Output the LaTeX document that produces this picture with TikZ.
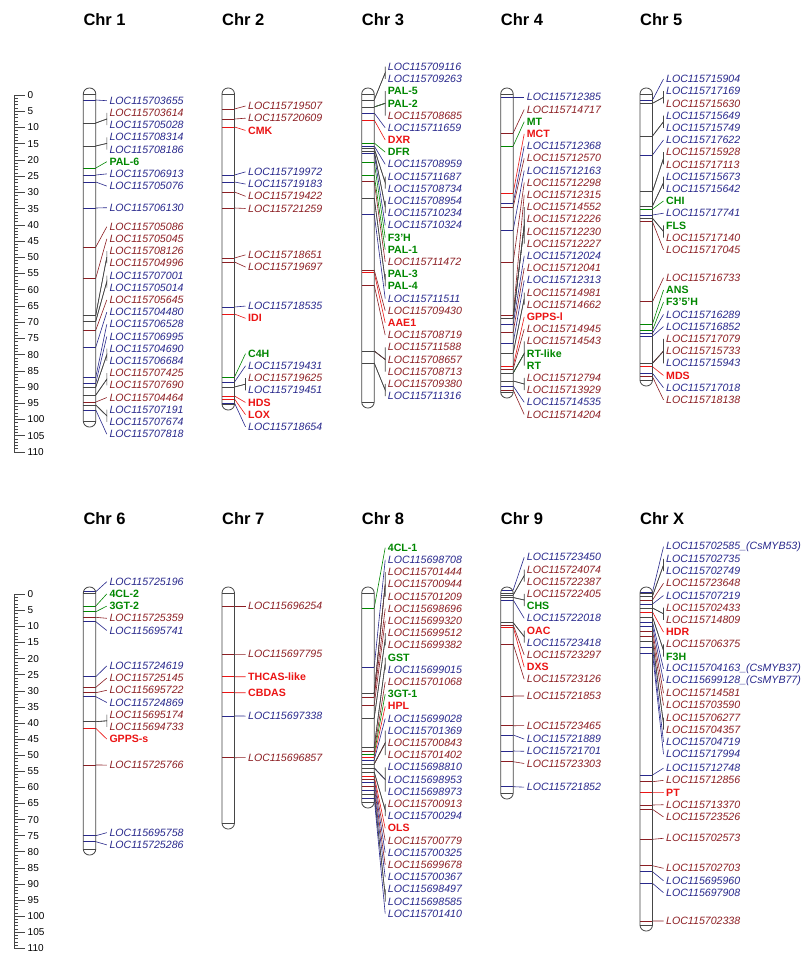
\documentclass[tikz,border=0pt]{standalone}
\usepackage{fontspec}
\setmainfont{Liberation Sans}
\definecolor{locblue}{RGB}{40,40,140}
\definecolor{locred}{RGB}{140,30,35}
\definecolor{genegreen}{RGB}{0,135,0}
\definecolor{genered}{RGB}{235,20,20}
\definecolor{chrgray}{RGB}{70,70,70}
\newcommand{\lfont}{\fontsize{10.6}{12}\selectfont}
\tikzset{
  lb/.style={color=locblue, font=\lfont\itshape},
  lr/.style={color=locred, font=\lfont\itshape},
  gg/.style={color=genegreen, font=\lfont\bfseries},
  gr/.style={color=genered, font=\lfont\bfseries},
  mk/.style={line width=0.7pt},
  cn/.style={line width=0.6pt},
  grp/.style={draw=chrgray, line width=0.6pt},
  chrom/.style={draw=chrgray, line width=0.8pt},
  hd/.style={font=\fontsize{16.5}{18}\selectfont\bfseries, anchor=west, inner sep=0pt},
  scl/.style={font=\fontsize{10}{12}\selectfont, anchor=west, inner sep=0pt},
  rul/.style={draw=chrgray, line width=0.6pt},
}
% #1 name, #2 title, #3 left x, #4 top, #5 bottom, #6 first label y, #7 loci
\newcommand{\chromo}[7]{%
  \pgfmathsetmacro\xl{#3}%
  \pgfmathsetmacro\xr{#3+12.5}%
  \pgfmathsetmacro\xb{#3+23.5}%
  \node[hd] (#1h) at (\xl,#4-68) {#2};
  \fill[white, rounded corners=6pt] (\xl,#4) rectangle (\xr,#5);
  \foreach \k/\m/\a/\c/\t [count=\i] in {#7}{%
    \pgfmathsetmacro\ly{#6+12.2*\k}%
    \pgfmathsetmacro\ay{#6+12.2*\a}%
    \pgfmathtruncatemacro\isg{abs(\a-\k)>0.01}%
    \coordinate (#1m\i) at (\xr,\m);
    \coordinate (#1a\i) at (\xb,\ay);
    \node[\c, anchor=west, inner sep=0pt] (#1l\i) at (\xb+2.5,\ly) {\t};
    \ifnum\isg=1
      \draw[grp] (#1m\i) -- ++(-12.5,0);
      \draw[grp] (#1m\i) -- (#1a\i) -- (#1a\i |- #1l\i.west);
    \else
      \draw[\c, mk] (#1m\i) -- ++(-12.5,0);
      \draw[\c, cn] (#1m\i) -- (#1a\i);
    \fi
  }%
  \draw[chrom, rounded corners=6pt] (\xl,#4) rectangle (\xr,#5);
  \draw[chrom] (\xl,#4+6) -- (\xr,#4+6) (\xl,#5-6) -- (\xr,#5-6);
}

\begin{document}
\begin{tikzpicture}[x=1pt,y=-1pt]
\useasboundingbox (0,0) rectangle (802,954);
\fill[white] (0,0) rectangle (802,954);

% scale bars
\foreach \ry/\rs/\rn in {95/3.245/t,594.3/3.218/b}{
  \draw[rul] (14,\ry) -- (14,\ry+110*\rs);
  \foreach \u in {0,...,110}
    \draw[rul] (14,\ry+\u*\rs) -- (18,\ry+\u*\rs);
  \foreach \u in {0,5,...,110}{
    \draw[rul] (14,\ry+\u*\rs) -- (25,\ry+\u*\rs);
    \node[scl] (\rn\u) at (27.5,\ry+\u*\rs) {\u};
  }
}

% top row
\chromo{a}{Chr 1}{83.3}{88}{427}{100.7}{
0/100/0/lb/LOC115703655,
1/123/1.5/lr/LOC115703614,
2/123/1.5/lb/LOC115705028,
3/146/3.5/lb/LOC115708314,
4/146/3.5/lb/LOC115708186,
5/168/5/gg/PAL-6,
6/175/6/lb/LOC115706913,
7/182/7/lb/LOC115705076,
8.77/208/8.77/lb/LOC115706130,
10.33/247/10.33/lr/LOC115705086,
11.33/278/11.33/lr/LOC115705045,
12.33/315/12.83/lr/LOC115708126,
13.33/315/12.83/lr/LOC115704996,
14.33/321/14.83/lb/LOC115707001,
15.33/321/14.83/lb/LOC115705014,
16.33/330/16.33/lr/LOC115705645,
17.33/347/17.33/lb/LOC115704480,
18.33/377/18.33/lb/LOC115706528,
19.33/383/19.33/lb/LOC115706995,
20.33/387/20.83/lb/LOC115704690,
21.33/387/20.83/lb/LOC115706684,
22.33/395/22.83/lr/LOC115707425,
23.33/395/22.83/lr/LOC115707690,
24.33/402/24.33/lr/LOC115704464,
25.33/405/25.83/lb/LOC115707191,
26.33/405/25.83/lb/LOC115707674,
27.33/410/27.33/lb/LOC115707818}

\chromo{b}{Chr 2}{222}{88}{410}{106}{
0/109/0/lr/LOC115719507,
1/119/1/lr/LOC115720609,
2/127/2/gr/CMK,
5.4/175/5.4/lb/LOC115719972,
6.4/182/6.4/lb/LOC115719183,
7.4/192/7.4/lr/LOC115719422,
8.4/208/8.4/lr/LOC115721259,
12.2/258/12.2/lr/LOC115718651,
13.2/262/13.2/lr/LOC115719697,
16.4/307/16.4/lb/LOC115718535,
17.4/314/17.4/gr/IDI,
20.3/377/20.3/gg/C4H,
21.3/382/21.3/lb/LOC115719431,
22.3/387/22.8/lr/LOC115719625,
23.3/387/22.8/lb/LOC115719451,
24.3/396/24.3/gr/HDS,
25.3/399/25.3/gr/LOX,
26.3/403/26.3/lb/LOC115718654}

\chromo{c}{Chr 3}{361.7}{88}{408}{66.7}{
0/100/0.5/lb/LOC115709116,
1/100/0.5/lb/LOC115709263,
2/107/3/gg/PAL-5,
3/107/3/gg/PAL-2,
4/107/3/lr/LOC115708685,
5/113/5/lb/LOC115711659,
6/120/6/gr/DXR,
7/143/7/gg/DFR,
8/146/8/lb/LOC115708959,
9/148.5/9.5/lb/LOC115711687,
10/148.5/9.5/lb/LOC115708734,
11/151/11.5/lb/LOC115708954,
12/151/11.5/lb/LOC115710234,
13/153.5/13/lb/LOC115710324,
14/162/14/gg/F3'H,
15/175/15/gg/PAL-1,
16/181.5/16/lr/LOC115711472,
17/198/17.5/gg/PAL-3,
18/198/17.5/gg/PAL-4,
19/214/19/lb/LOC115711511,
20/270/20/lr/LOC115709430,
21/272.5/21/gr/AAE1,
22/285/22/lr/LOC115708719,
23/351/24/lr/LOC115711588,
24/351/24/lr/LOC115708657,
25/351/24/lr/LOC115708713,
26/363/26.5/lr/LOC115709380,
27/363/26.5/lb/LOC115711316}

\chromo{d}{Chr 4}{500.7}{88}{398}{97.3}{
0/97.3/0/lb/LOC115712385,
1/133/1/lr/LOC115714717,
2/146/2/gg/MT,
3/193/3/gr/MCT,
4/203/4/lb/LOC115712368,
5/207/5/lr/LOC115712570,
6/230/6/lb/LOC115712163,
7/262/7/lr/LOC115712298,
8/315/8/lr/LOC115712315,
9/318/10.5/lr/LOC115714552,
10/318/10.5/lr/LOC115712226,
11/318/10.5/lr/LOC115712230,
12/318/10.5/lr/LOC115712227,
13/324/13/lb/LOC115712024,
14/332/14/lr/LOC115712041,
15/343/15/lb/LOC115712313,
16/353/16.5/lr/LOC115714981,
17/353/16.5/lr/LOC115714662,
18/366/18/gr/GPPS-l,
19/369/19/lr/LOC115714945,
20/373/21/lr/LOC115714543,
21/373/21/gg/RT-like,
22/373/21/gg/RT,
23/381/23.5/lr/LOC115712794,
24/381/23.5/lr/LOC115713929,
25/386/25/lb/LOC115714535,
26/390/26/lr/LOC115714204}

\chromo{e}{Chr 5}{640}{88}{386}{79}{
0/100/0/lb/LOC115715904,
1/103.3/1.5/lb/LOC115717169,
2/103.3/1.5/lr/LOC115715630,
3/136/3.5/lb/LOC115715649,
4/136/3.5/lb/LOC115715749,
5/155/5/lb/LOC115717622,
6/191.7/6.5/lr/LOC115715928,
7/191.7/6.5/lr/LOC115717113,
8/206/8.5/lb/LOC115715673,
9/206/8.5/lb/LOC115715642,
10/209/10/gg/CHI,
11/215/11/lb/LOC115717741,
12/218.3/12.5/gg/FLS,
13/218.3/12.5/lr/LOC115717140,
14/221.7/14/lr/LOC115717045,
16.3/301.7/16.3/lr/LOC115716733,
17.3/324/17.3/gg/ANS,
18.3/330/18.3/gg/F3'5'H,
19.3/333.3/19.3/lb/LOC115716289,
20.3/336/20.3/lb/LOC115716852,
21.3/363.3/22.3/lr/LOC115717079,
22.3/363.3/22.3/lr/LOC115715733,
23.3/363.3/22.3/lb/LOC115715943,
24.3/366.7/24.3/gr/MDS,
25.3/373.3/25.3/lb/LOC115717018,
26.3/376.7/26.3/lr/LOC115718138}

% bottom row
\chromo{f}{Chr 6}{83.3}{587}{855}{581.7}{
0/591.7/0/lb/LOC115725196,
1/606/1/gg/4CL-2,
2/611.7/2/gg/3GT-2,
3/617.3/3/lr/LOC115725359,
4/621.7/4/lb/LOC115695741,
6.9/676.7/6.9/lb/LOC115724619,
7.9/687.3/7.9/lr/LOC115725145,
8.9/692.7/8.9/lr/LOC115695722,
9.9/696.7/9.9/lb/LOC115724869,
10.9/721.7/11.4/lr/LOC115695174,
11.9/721.7/11.4/lr/LOC115694733,
12.9/728.3/12.9/gr/GPPS-s,
15.03/765/15.03/lr/LOC115725766,
20.57/835.7/20.57/lb/LOC115695758,
21.57/841.7/21.57/lb/LOC115725286}

\chromo{g}{Chr 7}{222}{587}{829}{606}{
0/606/0/lr/LOC115696254,
3.96/654.3/3.96/lr/LOC115697795,
5.8/676.7/5.8/gr/THCAS-like,
7.11/692.7/7.11/gr/CBDAS,
9.02/716/9.02/lb/LOC115697338,
12.43/757.7/12.43/lr/LOC115696857}

\chromo{h}{Chr 8}{361.7}{587}{808}{547.7}{
0/608/0/gg/4CL-1,
1/667/1/lb/LOC115698708,
2/693/3/lr/LOC115701444,
3/693/3/lr/LOC115700944,
4/693/3/lr/LOC115701209,
5/697/5/lr/LOC115698696,
6/705/6/lr/LOC115699320,
7/718/7.5/lr/LOC115699512,
8/718/7.5/lr/LOC115699382,
9/747/9.5/gg/GST,
10/747/9.5/lb/LOC115699015,
11/751/11/lr/LOC115701068,
12/754/12/gg/3GT-1,
13/757/13/gr/HPL,
14/760/14/lb/LOC115699028,
15/764/16/lb/LOC115701369,
16/764/16/lr/LOC115700843,
17/764/16/lr/LOC115701402,
18/768/19/lb/LOC115698810,
19/768/19/lb/LOC115698953,
20/768/19/lb/LOC115698973,
21/772/21.5/lr/LOC115700913,
22/772/21.5/lb/LOC115700294,
23/776/23/gr/OLS,
24/779/24/lr/LOC115700779,
25/782/25/lb/LOC115700325,
26/786/26/lr/LOC115699678,
27/790/27/lb/LOC115700367,
28/794/28.5/lb/LOC115698497,
29/794/28.5/lb/LOC115698585,
30/798/30/lb/LOC115701410}

\chromo{i}{Chr 9}{500.7}{587}{799}{557.3}{
0/590/0/lb/LOC115723450,
1/595/1.5/lr/LOC115724074,
2/595/1.5/lr/LOC115722387,
3/597.5/3.5/lr/LOC115722405,
4/597.5/3.5/gg/CHS,
5/600/5/lb/LOC115722018,
6/622.7/6.5/gr/OAC,
7/622.7/6.5/lb/LOC115723418,
8/625/8/lr/LOC115723297,
9/627/9/gr/DXS,
10/644/10/lr/LOC115723126,
11.37/696/11.37/lr/LOC115721853,
13.8/725.7/13.8/lr/LOC115723465,
14.9/735/14.9/lb/LOC115721889,
15.9/751/15.9/lb/LOC115721701,
16.9/761.7/16.9/lr/LOC115723303,
18.84/786.7/18.84/lb/LOC115721852}

\chromo{j}{Chr X}{640}{587}{931}{546.7}{
0/592/0/lb/LOC115702585\_(CsMYB53),
1/596/1.5/lb/LOC115702735,
2/596/1.5/lb/LOC115702749,
3/600/3/lr/LOC115723648,
4/604/4/lb/LOC115707219,
5/608/5.5/lr/LOC115702433,
6/608/5.5/lr/LOC115714809,
7/612/7/gr/HDR,
8/617/8.5/lr/LOC115706375,
9/617/8.5/gg/F3H,
10/622/10/lb/LOC115704163\_(CsMYB37),
11/626/11/lb/LOC115699128\_(CsMYB77),
12/631/12/lr/LOC115714581,
13/636/13/lr/LOC115703590,
14/641/14.5/lr/LOC115706277,
15/641/14.5/lr/LOC115704357,
16/647/16/lb/LOC115704719,
17/653/17/lb/LOC115717994,
18.15/775/18.15/lb/LOC115712748,
19.15/781.7/19.15/lr/LOC115712856,
20.15/792.7/20.15/gr/PT,
21.15/805/21.15/lr/LOC115713370,
22.15/809.3/22.15/lr/LOC115723526,
23.9/839.3/23.9/lr/LOC115702573,
26.36/865.7/26.36/lr/LOC115702703,
27.38/871.7/27.38/lb/LOC115695960,
28.36/883.3/28.36/lb/LOC115697908,
30.68/921/30.68/lr/LOC115702338}
\end{tikzpicture}
\end{document}
